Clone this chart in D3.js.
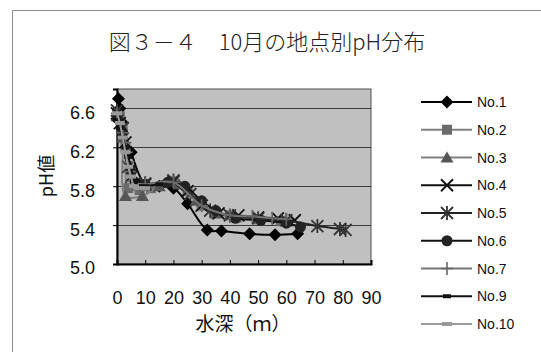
<!DOCTYPE html>
<html>
<head>
<meta charset="utf-8">
<script src="https://cdn.jsdelivr.net/npm/d3@7"></script>
<style>
  html, body { margin: 0; padding: 0; background: #fff; }
  svg { display: block; }
</style>
</head>
<body>
<svg id="chart" width="541" height="352"></svg>
<script>
// pH profiles by station, October: [depth (m), pH]
const seriesNames = ["No.1", "No.2", "No.3", "No.4", "No.5", "No.6", "No.7", "No.9", "No.10"];
const no1 = [[0.5, 6.70], [1, 6.60], [2, 6.45], [5, 6.15], [10, 5.82], [15, 5.80], [20, 5.78], [25, 5.62], [32, 5.35], [37, 5.34], [47, 5.31], [56, 5.30], [64, 5.31]];
const no2 = [[0, 6.55], [1, 6.52], [2, 6.40], [3, 6.20], [4, 5.78], [8, 5.76], [12, 5.78], [20, 5.85], [25, 5.75], [30, 5.60], [40, 5.50], [50, 5.46], [58, 5.44]];
const no3 = [[0, 6.52], [2, 6.30], [3, 5.70], [9, 5.70], [15, 5.80], [22, 5.82], [28, 5.65], [35, 5.52], [42, 5.48]];
const no4 = [[0, 6.55], [1, 6.45], [3, 6.25], [5, 5.90], [10, 5.82], [20, 5.85], [25, 5.75], [30, 5.60], [36, 5.52], [43, 5.50], [50, 5.48], [57, 5.47], [63, 5.45]];
const no5 = [[0, 6.58], [2, 6.40], [4, 6.00], [10, 5.83], [20, 5.86], [26, 5.72], [33, 5.55], [40, 5.50], [50, 5.47], [60, 5.45], [71, 5.39], [79, 5.36], [81, 5.35]];
const no6 = [[0, 6.50], [2, 6.35], [5, 5.95], [10, 5.82], [18, 5.84], [24, 5.80], [30, 5.65], [35, 5.55], [42, 5.47], [51, 5.45], [60, 5.42], [65, 5.38]];
const no7 = [[0, 6.55], [2, 6.35], [3, 6.25], [3.5, 6.15], [4, 6.05], [4.5, 5.95], [5, 5.85], [10, 5.82], [20, 5.84], [30, 5.60], [40, 5.50], [48, 5.49], [55, 5.47], [60, 5.46]];
const no9 = [[0, 6.48], [1, 6.40], [2, 6.30], [3, 6.20], [4, 6.10], [5, 6.00], [6, 5.85], [8, 5.80], [10, 5.80], [15, 5.82]];
const no10 = [[0, 6.55], [1, 6.45], [2, 6.30], [3, 6.15], [4, 6.00], [5, 5.90], [6, 5.80], [8, 5.78], [10, 5.78]];
const seriesData = [no1, no2, no3, no4, no5, no6, no7, no9, no10];

const xTicks = [0, 10, 20, 30, 40, 50, 60, 70, 80, 90];
const yTicks = [5.0, 5.4, 5.8, 6.2, 6.6];

const titleText = "図３－４　10月の地点別pH分布";
const xTitle = "水深（ｍ）";
const yTitle = "pH値";

// styles per station: line colour, marker colour, marker kind
const styles = [
  { line: "#000", mark: "#000", kind: "diamond" },
  { line: "#808080", mark: "#6a6a6a", kind: "square" },
  { line: "#808080", mark: "#555", kind: "triangle" },
  { line: "#111", mark: "#111", kind: "x" },
  { line: "#222", mark: "#333", kind: "star" },
  { line: "#111", mark: "#222", kind: "circle" },
  { line: "#777", mark: "#666", kind: "plus" },
  { line: "#111", mark: "#111", kind: "dash" },
  { line: "#9a9a9a", mark: "#999", kind: "wide" }
];

const svg = d3.select("#chart");
const plot = { left: 117, right: 371, top: 89, bottom: 264 };

const x = d3.scaleLinear().domain([0, 90]).range([plot.left, plot.right]);
const y = d3.scaleLinear().domain([5.0, 6.8]).range([plot.bottom, plot.top]);

// outer chart frame
svg.append("path")
  .attr("d", "M12.5,352 L12.5,10.5 L541,10.5")
  .attr("fill", "none").attr("stroke", "#8a8a8a").attr("stroke-width", 1);

// title
svg.append("text")
  .attr("x", 267).attr("y", 50)
  .attr("text-anchor", "middle")
  .attr("font-family", "'Noto Sans CJK JP', sans-serif")
  .attr("font-size", 22).attr("font-weight", 300).attr("fill", "#222")
  .text(titleText);

// plot background
svg.append("rect")
  .attr("x", plot.left).attr("y", plot.top)
  .attr("width", plot.right - plot.left).attr("height", plot.bottom - plot.top)
  .attr("fill", "#c0c0c0").attr("stroke", "#505050").attr("stroke-width", 1);

// gridlines
svg.append("g").selectAll("line")
  .data(yTicks.filter(v => v > 5.0))
  .join("line")
  .attr("x1", plot.left).attr("x2", plot.right)
  .attr("y1", d => Math.round(y(d)) + 0.5).attr("y2", d => Math.round(y(d)) + 0.5)
  .attr("stroke", "#3a3a3a").attr("stroke-width", 1.2);

// y axis
const yAxis = d3.axisLeft(y).tickValues(yTicks).tickFormat(d3.format(".1f")).tickSize(4).tickPadding(18);
const gy = svg.append("g").attr("transform", `translate(${plot.left},0)`).call(yAxis);
gy.select(".domain").attr("stroke", "#000").attr("stroke-width", 2);
gy.selectAll(".tick line").attr("stroke", "#000");
gy.selectAll(".tick text")
  .attr("font-family", "'Liberation Sans', Arial, sans-serif")
  .attr("font-size", 18).attr("fill", "#111").attr("dy", "0.55em");

// x axis (ticks point inward)
const xAxis = d3.axisBottom(x).tickValues(xTicks).tickFormat(d3.format("d")).tickSize(-4).tickPadding(27);
const gx = svg.append("g").attr("transform", `translate(0,${plot.bottom})`).call(xAxis);
gx.select(".domain").attr("stroke", "#000").attr("stroke-width", 2);
gx.selectAll(".tick line").attr("stroke", "#000");
gx.selectAll(".tick text")
  .attr("font-family", "'Liberation Sans', Arial, sans-serif")
  .attr("font-size", 18).attr("fill", "#111");

// axis titles
svg.append("text")
  .attr("x", 243).attr("y", 331)
  .attr("text-anchor", "middle")
  .attr("font-family", "'Noto Sans CJK JP', sans-serif")
  .attr("font-size", 19).attr("fill", "#111")
  .text(xTitle);

svg.append("text")
  .attr("transform", "translate(53,176) rotate(-90)")
  .attr("text-anchor", "middle")
  .attr("font-family", "'Noto Sans CJK JP', sans-serif")
  .attr("font-size", 18).attr("fill", "#111")
  .text(yTitle);

// marker drawing
function drawMarker(g, kind, color) {
  switch (kind) {
    case "diamond":
      g.append("path").attr("d", "M0,-6.5 L6.5,0 L0,6.5 L-6.5,0Z").attr("fill", color); break;
    case "square":
      g.append("rect").attr("x", -5).attr("y", -5).attr("width", 10).attr("height", 10).attr("fill", color); break;
    case "triangle":
      g.append("path").attr("d", "M0,-6 L6.5,5 L-6.5,5Z").attr("fill", color); break;
    case "x":
      g.append("path").attr("d", "M-6,-6 L6,6 M-6,6 L6,-6").attr("stroke", color).attr("stroke-width", 1.8).attr("fill", "none"); break;
    case "star":
      g.append("path").attr("d", "M-6,-6 L6,6 M-6,6 L6,-6 M0,-7 L0,7").attr("stroke", color).attr("stroke-width", 1.8).attr("fill", "none"); break;
    case "circle":
      g.append("circle").attr("r", 5.5).attr("fill", color); break;
    case "plus":
      g.append("path").attr("d", "M-6,0 L6,0 M0,-6.5 L0,6.5").attr("stroke", color).attr("stroke-width", 1.6).attr("fill", "none"); break;
    case "dash":
      g.append("rect").attr("x", -4).attr("y", -2).attr("width", 8).attr("height", 4).attr("fill", color); break;
    case "wide":
      g.append("rect").attr("x", -5).attr("y", -2).attr("width", 10).attr("height", 4).attr("fill", color); break;
  }
}

const line = d3.line()
  .x(d => x(d[0])).y(d => y(d[1]))
  .curve(d3.curveCatmullRom.alpha(0.5));

const plotLayer = svg.append("g");
seriesData.forEach((pts, i) => {
  const st = styles[i];
  const g = plotLayer.append("g");
  g.append("path").datum(pts)
    .attr("d", line)
    .attr("fill", "none").attr("stroke", st.line).attr("stroke-width", 2);
  pts.forEach(p => {
    const m = g.append("g").attr("transform", `translate(${x(p[0])},${y(p[1])})`);
    drawMarker(m, st.kind, st.mark);
  });
});

// legend
const legend = svg.append("g");
seriesNames.forEach((name, i) => {
  const st = styles[i];
  const cy = 102 + i * 27.75;
  legend.append("line")
    .attr("x1", 421).attr("x2", 472).attr("y1", cy).attr("y2", cy)
    .attr("stroke", st.line).attr("stroke-width", 2);
  drawMarker(legend.append("g").attr("transform", `translate(447,${cy})`), st.kind, st.mark);
  legend.append("text")
    .attr("x", 477).attr("y", cy + 5)
    .attr("font-family", "'Liberation Sans', Arial, sans-serif")
    .attr("font-size", 14).attr("fill", "#111")
    .text(name);
});
</script>
</body>
</html>
